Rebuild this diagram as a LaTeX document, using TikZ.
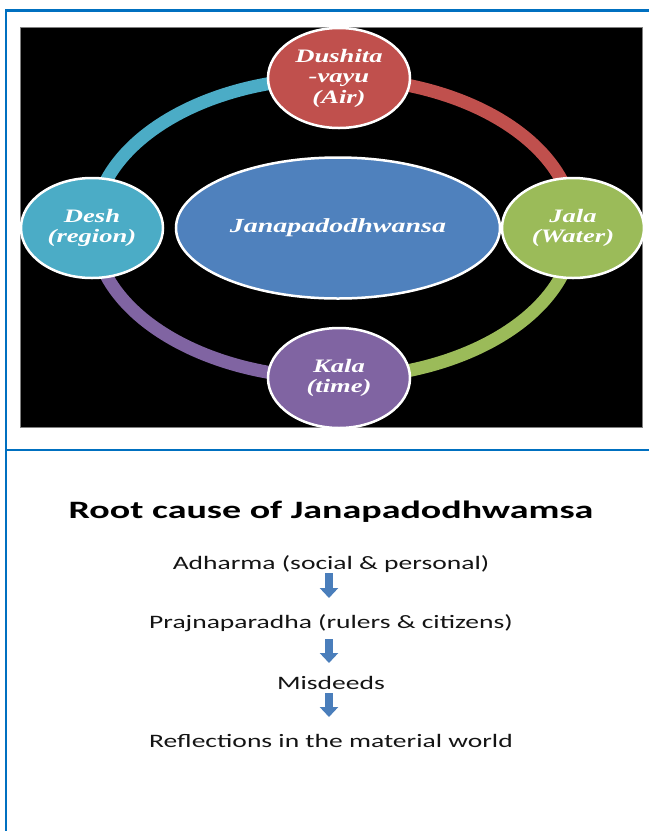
\documentclass[tikz,border=0pt]{standalone}
\usepackage{fontspec}
\setmainfont{Liberation Serif}
\newfontfamily\ellfont[FakeStretch=1.4]{Liberation Serif}
\newfontfamily\bodyfont[FakeStretch=1.45]{Carlito}
\newfontfamily\titlefont[FakeStretch=1.52]{Carlito}
\usetikzlibrary{shapes.geometric,arrows.meta}
\definecolor{frameblue}{HTML}{0070C0}
\definecolor{cred}{HTML}{C0504D}
\definecolor{ccyan}{HTML}{4BACC6}
\definecolor{cgreen}{HTML}{9BBB59}
\definecolor{cpurple}{HTML}{8064A2}
\definecolor{cblue}{HTML}{4F81BD}
\definecolor{arrowblue}{HTML}{4A7EBB}
\definecolor{bodytext}{HTML}{141414}
\tikzset{
  frameline/.style={draw=frameblue, line width=2.2pt},
  ringseg/.style={line width=13pt},
  ellnode/.style={ellipse, draw=white, line width=2.5pt, minimum width=142pt,
    minimum height=100pt, inner sep=0pt, text=white, align=center,
    font=\ellfont\bfseries\itshape\fontsize{19}{20.5}\selectfont},
  bodyline/.style={anchor=base, inner sep=0pt, text=bodytext,
    font=\bodyfont\fontsize{19}{22}\selectfont},
  blockarrow/.style={draw=arrowblue, line width=8.5pt,
    -{Triangle[width=18pt,length=10pt]}},
}
\begin{document}
\begin{tikzpicture}
\useasboundingbox (0,0) rectangle (649pt,-831pt);
\begin{scope}[x=1pt,y=1pt]
% frame
\draw[frameline] (6,-10.5) -- (649,-10.5);
\draw[frameline] (6,-9.4) -- (6,-831);
\draw[frameline] (6,-450) -- (649,-450);
% black panel
\fill[black] (20,-27) rectangle (642,-427);
\draw[gray, line width=0.8pt] (20,-27) rectangle (642,-427);
% ring
\coordinate (ringc) at (334,-228);
\draw[ringseg, ccyan] (ringc) ++(180:240pt and 150pt) arc[start angle=180, end angle=90, x radius=240pt, y radius=150pt];
\draw[ringseg, cred] (ringc) ++(90:240pt and 150pt) arc[start angle=90, end angle=0, x radius=240pt, y radius=150pt];
\draw[ringseg, cgreen] (ringc) ++(0:240pt and 150pt) arc[start angle=0, end angle=-90, x radius=240pt, y radius=150pt];
\draw[ringseg, cpurple] (ringc) ++(-90:240pt and 150pt) arc[start angle=-90, end angle=-180, x radius=240pt, y radius=150pt];
% nodes
\node[ellnode, fill=cblue, minimum width=324pt, minimum height=141pt,
  font=\ellfont\bfseries\itshape\fontsize{20}{22}\selectfont] (center) at (338,-228) {Janapadodhwansa};
\node[ellnode, fill=cred] (air) at (339,-78) {Dushita\\-vayu\\(Air)};
\node[ellnode, fill=ccyan] (desh) at (92,-228) {Desh\\(region)};
\node[ellnode, fill=cgreen] (jala) at (573,-228) {Jala\\(Water)};
\begin{scope}
\clip (20,-27) rectangle (642,-427.5);
\node[ellnode, fill=cpurple] (kala) at (339,-378) {Kala\\(time)};
\end{scope}
% bottom part
\node[anchor=base, inner sep=0pt, text=black,
  font=\titlefont\bfseries\fontsize{25}{28}\selectfont] (title) at (331,-518) {Root cause of Janapadodhwamsa};
\node[bodyline] (adh) at (331,-569) {Adharma (social \& personal)};
\node[bodyline] (praj) at (331,-628) {Prajnaparadha (rulers \& citizens)};
\node[bodyline] (mis) at (331,-689) {Misdeeds};
\node[bodyline] (refl) at (331,-747) {Reflections in the material world};
\draw[blockarrow, shorten <=4pt, shorten >=30pt] ([xshift=-2pt]adh.base) -- ([xshift=-2pt]praj.base);
\draw[blockarrow, shorten <=11pt, shorten >=26pt] ([xshift=-2pt]praj.base) -- ([xshift=-2pt]mis.base);
\draw[blockarrow, shorten <=4pt, shorten >=30pt] ([xshift=-2pt]mis.base) -- ([xshift=-2pt]refl.base);
\end{scope}
\end{tikzpicture}
\end{document}
